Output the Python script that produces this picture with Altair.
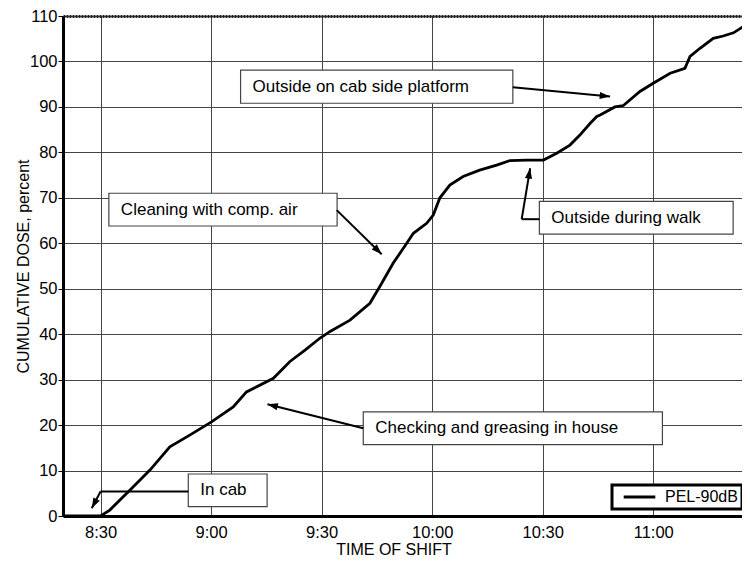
import math
import altair as alt
import pandas as pd

# ---------------- data ----------------
# time of shift in minutes after midnight (510 = 8:30)
time_min = [500.0, 510.0, 512.5, 518.0, 523.4, 528.8, 534.2, 540.1, 546.0, 549.6,
            556.9, 561.4, 565.5, 569.5, 572.3, 577.7, 583.1, 585.8, 589.4, 593.1,
            594.9, 598.5, 600.3, 602.1, 604.8, 608.4, 612.9, 617.5, 621.1, 625.7,
            630.2, 633.8, 637.4, 640.1, 642.9, 644.7, 645.6, 649.6, 651.9, 656.4,
            660.0, 664.6, 668.6, 670.0, 672.7, 676.3, 679.0, 681.8, 686.1]
dose_pct = [0.0, 0.0, 1.3, 5.7, 10.1, 15.2, 17.8, 20.7, 24.0, 27.3,
            30.3, 34.0, 36.5, 39.1, 40.6, 43.1, 46.8, 50.5, 55.6, 60.0,
            62.2, 64.4, 66.2, 70.0, 72.8, 74.7, 76.1, 77.2, 78.2, 78.3,
            78.3, 79.8, 81.6, 83.8, 86.4, 87.9, 88.2, 90.0, 90.3, 93.4,
            95.2, 97.4, 98.5, 101.1, 102.9, 105.1, 105.6, 106.3, 108.5]
series_name = "PEL-90dB"

ann_text = ["Outside on cab side platform", "Cleaning with comp. air",
            "Outside during walk", "Checking and greasing in house", "In cab"]
ann_t0 = [548.0, 512.25, 629.1, 581.3, 533.8]
ann_t1 = [621.9, 574.2, 681.7, 662.5, 555.2]
ann_v0 = [90.8, 63.8, 62.0, 15.7, 2.05]
ann_v1 = [98.1, 71.0, 69.2, 22.9, 9.24]

arrow_t1 = [621.9, 574.1, 629.1, 624.3, 581.3, 533.8, 510.0]
arrow_v1 = [94.3, 67.3, 65.3, 65.3, 19.3, 5.4, 5.4]
arrow_t2 = [648.3, 586.3, 624.3, 626.6, 555.3, 510.0, 507.6]
arrow_v2 = [92.3, 57.6, 65.3, 76.5, 24.6, 5.4, 1.7]
arrow_head = [True, True, False, True, True, False, True]

x_ticks = [510, 540, 570, 600, 630, 660]
y_ticks = list(range(0, 111, 10))

# ---------------- layout ----------------
W, H = 679, 500
X_DOMAIN = [499.8, 684.1]
Y_DOMAIN = [0, 110]
FONT = "Liberation Sans"
px_per_min = W / (X_DOMAIN[1] - X_DOMAIN[0])
px_per_unit = H / (Y_DOMAIN[1] - Y_DOMAIN[0])

curve = pd.DataFrame({"t": time_min, "v": dose_pct, "series": series_name})
boxes = pd.DataFrame({"text": ann_text, "t0": ann_t0, "t1": ann_t1,
                      "v0": ann_v0, "v1": ann_v1})
boxes["vm"] = (boxes["v0"] + boxes["v1"]) / 2

arrows = pd.DataFrame({"t1": arrow_t1, "v1": arrow_v1, "t2": arrow_t2,
                       "v2": arrow_v2, "head": arrow_head})
angles = []
for a, b, c, d in zip(arrow_t1, arrow_v1, arrow_t2, arrow_v2):
    dx = (c - a) * px_per_min
    dy = -(d - b) * px_per_unit
    angles.append(math.degrees(math.atan2(dx, -dy)) % 360)
arrows["angle"] = angles
heads = arrows[arrows["head"]]

xs = alt.Scale(domain=X_DOMAIN, nice=False, zero=False)
ys = alt.Scale(domain=Y_DOMAIN, nice=False, zero=False)

label_expr = ("floor(datum.value/60) + ':' + (datum.value % 60 < 10 ? '0' : '') "
              "+ (datum.value % 60)")

line = alt.Chart(curve).mark_line(strokeWidth=2.8, clip=True).encode(
    x=alt.X("t:Q", scale=xs,
            axis=alt.Axis(orient="bottom", values=x_ticks, labelExpr=label_expr,
                          title="TIME OF SHIFT", grid=True, ticks=False,
                          labelPadding=8, titlePadding=1, titleX=330.5,
                          domainColor="black", domainWidth=3)),
    y=alt.Y("v:Q", scale=ys,
            axis=alt.Axis(values=y_ticks, title="CUMULATIVE DOSE, percent",
                          grid=True, tickSize=5, tickColor="black",
                          labelPadding=1, domainColor="black", domainWidth=3,
                          titleX=-40, titleY=250, titleAngle=270,
                          titleAlign="center", titleBaseline="middle")),
    color=alt.Color("series:N", scale=alt.Scale(range=["black"]),
                    legend=alt.Legend(orient="none", legendX=549, legendY=469,
                                      title=None, symbolType="stroke",
                                      symbolSize=1000, symbolStrokeWidth=3,
                                      labelFontSize=16, labelFont=FONT,
                                      labelColor="black", padding=4,
                                      strokeColor="black", fillColor="white",
                                      clipHeight=16, symbolOffset=6,
                                      labelOffset=8)),
)

box = alt.Chart(boxes).mark_rect(fill="white", stroke="#444",
                                 strokeWidth=1.2).encode(
    x=alt.X("t0:Q", scale=xs,
            axis=alt.Axis(orient="top", labels=False, ticks=False, grid=False,
                          title=None, domainColor="#222", domainWidth=3,
                          domainDash=[2, 1])),
    x2="t1:Q",
    y=alt.Y("v0:Q", scale=ys, axis=None),
    y2="v1:Q",
)

txt = alt.Chart(boxes).mark_text(align="left", baseline="middle", dx=12,
                                 fontSize=17, font=FONT, color="black").encode(
    x=alt.X("t0:Q", scale=xs, axis=None),
    y=alt.Y("vm:Q", scale=ys, axis=None),
    text="text:N",
)

rules = alt.Chart(arrows).mark_rule(color="black", strokeWidth=2).encode(
    x=alt.X("t1:Q", scale=xs, axis=None),
    y=alt.Y("v1:Q", scale=ys, axis=None),
    x2="t2:Q",
    y2="v2:Q",
)

ARROW = "M0,0L-0.45,1.3L0.45,1.3Z"
tips = alt.Chart(heads).mark_point(shape=ARROW, filled=True, size=256,
                                   color="black", opacity=1,
                                   strokeWidth=0).encode(
    x=alt.X("t2:Q", scale=xs, axis=None),
    y=alt.Y("v2:Q", scale=ys, axis=None),
    angle=alt.Angle("angle:Q", scale=None),
)

chart = alt.layer(line, box, txt, rules, tips).resolve_axis(
    x="independent", y="independent"
).properties(
    width=W, height=H,
    autosize=alt.AutoSizeParams(type="none"),
    padding={"left": 55, "top": 8, "right": 0, "bottom": 45},
).configure_view(stroke=None).configure_axis(
    labelFont=FONT, titleFont=FONT, labelFontSize=16.5, titleFontSize=16,
    labelColor="black", titleColor="black", titleFontWeight="normal",
    gridColor="#444", gridWidth=1, gridOpacity=1,
).configure_legend(strokeWidth=3)

chart.save("out.html", embed_options={"renderer": "svg", "actions": False})
